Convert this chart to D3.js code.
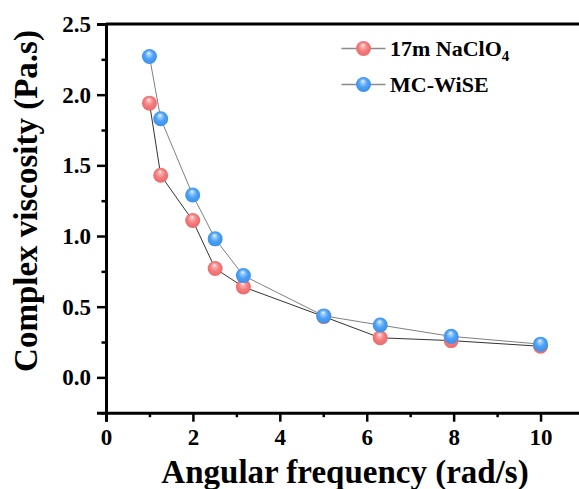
<!DOCTYPE html>
<html>
<head>
<meta charset="utf-8">
<script src="https://cdn.jsdelivr.net/npm/d3@7"></script>
<style>
  body { margin: 0; background: #fff; }
  svg { display: block; font-family: "Liberation Serif", "Times New Roman", serif; font-weight: bold; }
</style>
</head>
<body>
<svg id="chart"></svg>
<script>
// angular frequency (rad/s)
const freq = [1, 1.259, 1.995, 2.512, 3.162, 5.012, 6.31, 7.943, 10];
// complex viscosity (Pa.s)
const naclo4 = [1.94, 1.43, 1.11, 0.77, 0.64, 0.43, 0.28, 0.26, 0.22];
const wise = [2.27, 1.83, 1.29, 0.98, 0.72, 0.435, 0.37, 0.29, 0.235];
const xTicks = [0, 2, 4, 6, 8, 10];
const yTicks = [0.0, 0.5, 1.0, 1.5, 2.0, 2.5];

const W = 579, H = 489;
const svg = d3.select("#chart").attr("width", W).attr("height", H);

const x = d3.scaleLinear().domain([0, 11]).range([106, 584]);
const y = d3.scaleLinear().domain([-0.25, 2.5]).range([412.7, 24]);

// sphere-looking markers
const defs = svg.append("defs");
function sphere(id, light, base, dark) {
    const g = defs.append("radialGradient").attr("id", id)
        .attr("cx", "50%").attr("cy", "50%").attr("r", "55%")
        .attr("fx", "45%").attr("fy", "26%");
    g.append("stop").attr("offset", "0%").attr("stop-color", "#ffffff");
    g.append("stop").attr("offset", "18%").attr("stop-color", light);
    g.append("stop").attr("offset", "55%").attr("stop-color", base);
    g.append("stop").attr("offset", "100%").attr("stop-color", dark);
}
sphere("gRed", "#fbb4b4", "#f47c7c", "#e8686a");
sphere("gBlue", "#a3d0fb", "#4aa0f6", "#3a8de6");

// axes
const axisW = 3;
svg.append("line").attr("x1", 106).attr("x2", W).attr("y1", 24).attr("y2", 24)
    .attr("stroke", "#000").attr("stroke-width", axisW);

const xAxis = svg.append("g").attr("transform", "translate(0,412.7)")
    .call(d3.axisBottom(x).tickValues(xTicks).tickSize(9).tickPadding(7).tickFormat(d3.format("d")));
const xMinor = svg.append("g").attr("transform", "translate(0,412.7)")
    .call(d3.axisBottom(x).tickValues([1, 3, 5, 7, 9]).tickSize(4.5).tickFormat(""));

const yAxis = svg.append("g").attr("transform", "translate(106,0)")
    .call(d3.axisLeft(y).tickValues(yTicks).tickSize(9).tickPadding(6).tickFormat(d3.format(".1f")));
const yMinor = svg.append("g").attr("transform", "translate(106,0)")
    .call(d3.axisLeft(y).tickValues([-0.25, 0.25, 0.75, 1.25, 1.75, 2.25]).tickSize(4.5).tickFormat(""));

[xAxis, xMinor, yAxis, yMinor].forEach(a => {
    a.select(".domain").attr("stroke", "#000").attr("stroke-width", axisW);
    a.selectAll(".tick line").attr("stroke", "#000").attr("stroke-width", 2.5);
    a.selectAll("text").attr("fill", "#000")
        .style("font-family", "'Liberation Serif', serif").style("font-weight", "bold").style("font-size", "23px");
});
xMinor.select(".domain").remove();
yMinor.select(".domain").remove();

// axis titles
svg.append("text").attr("x", 345).attr("y", 483).attr("text-anchor", "middle")
    .style("font-size", "33px").text("Angular frequency (rad/s)");
svg.append("text").attr("transform", "translate(37,201) rotate(-90)").attr("text-anchor", "middle")
    .style("font-size", "33px").text("Complex viscosity (Pa.s)");

// lines
const line = d3.line().x(d => x(d[0])).y(d => y(d[1]));
svg.append("path").datum(d3.zip(freq, naclo4)).attr("d", line)
    .attr("fill", "none").attr("stroke", "#333").attr("stroke-width", 1);
svg.append("path").datum(d3.zip(freq, wise)).attr("d", line)
    .attr("fill", "none").attr("stroke", "#808080").attr("stroke-width", 1);

// markers
const r = 7.5;
svg.append("g").selectAll("circle").data(d3.zip(freq, naclo4)).enter().append("circle")
    .attr("cx", d => x(d[0])).attr("cy", d => y(d[1])).attr("r", r).attr("fill", "url(#gRed)");
svg.append("g").selectAll("circle").data(d3.zip(freq, wise)).enter().append("circle")
    .attr("cx", d => x(d[0])).attr("cy", d => y(d[1])).attr("r", r).attr("fill", "url(#gBlue)");

// legend
const legend = svg.append("g");
const items = [{ name: "17m NaClO", sub: "4", fill: "url(#gRed)", y: 48.5 },
               { name: "MC-WiSE", sub: "", fill: "url(#gBlue)", y: 84.5 }];
items.forEach(it => {
    legend.append("line").attr("x1", 341.5).attr("x2", 385.5).attr("y1", it.y).attr("y2", it.y)
        .attr("stroke", "#8a8a8a").attr("stroke-width", 1.3);
    legend.append("circle").attr("cx", 363.5).attr("cy", it.y).attr("r", r).attr("fill", it.fill);
    const t = legend.append("text").attr("x", 390).attr("y", it.y + 7.5).style("font-size", "22px").text(it.name);
    if (it.sub) t.append("tspan").attr("dy", 5).style("font-size", "15px").text(it.sub);
});
</script>
</body>
</html>
